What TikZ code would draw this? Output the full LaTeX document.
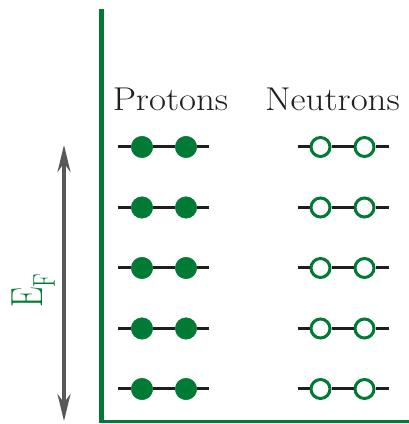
\documentclass[tikz,border=0pt]{standalone}
\usepackage{fontspec}
\usepackage{xcolor}
\usepackage{tikz}
\usetikzlibrary{arrows.meta,positioning}
\definecolor{nucGreen}{RGB}{0,122,52}
\definecolor{nucGray}{RGB}{88,88,88}
\definecolor{nucInk}{RGB}{30,30,30}

\begin{document}
\begin{tikzpicture}[x=1pt,y=1pt,
    head/.style={anchor=base,inner sep=0pt,xscale=1.12,text=nucInk,font=\fontsize{33}{36}\selectfont},
    proton/.style={circle,fill=nucGreen,draw=nucGreen,line width=0.5pt,minimum size=21.5pt,inner sep=0pt},
    neutron/.style={circle,fill=white,draw=nucGreen,line width=3pt,minimum size=19pt,inner sep=0pt},
    bond/.style={draw=nucInk,line width=3pt},
    axis/.style={draw=nucGreen},
    span/.style={{Stealth[length=27pt,width=13pt]}-{Stealth[length=27pt,width=13pt]},draw=nucGray,line width=3.5pt}
  ]
  \useasboundingbox (0,0) rectangle (409,424);
  % axes
  \draw[axis,line width=5pt] (101.5,2.5) -- (101.5,415);
  \draw[axis,line width=3pt] (99,2.5) -- (409,2.5);
  % Fermi energy
  \coordinate (eTop) at (64,279);
  \coordinate (eBot) at (64,3);
  \draw[span] (eBot) -- (eTop);
  \node[rotate=90,xscale=0.72,anchor=base west,text=nucGreen,inner sep=0pt,
    font=\fontsize{45}{48}\selectfont] (eF) at (42,116)
    {E\raisebox{-13pt}{\fontsize{31.5}{33}\selectfont F}};
  % headers
  \node[head] (hP) at (170.5,313) {Protons};
  \node[head] (hN) at (332.5,313) {Neutrons};
  % levels
  \foreach \i/\y in {1/277,2/216.5,3/156,4/95.5,5/35}{
    \coordinate (pl\i) at (118,\y);
    \coordinate (pr\i) at (209,\y);
    \node[proton] (pa\i) at (142,\y) {};
    \node[proton] (pb\i) at (186,\y) {};
    \draw[bond] (pl\i) -- (pa\i) (pa\i) -- (pb\i) (pb\i) -- (pr\i);
    \coordinate (nl\i) at (297.5,\y);
    \coordinate (nr\i) at (388.5,\y);
    \node[neutron] (na\i) at (320.5,\y) {};
    \node[neutron] (nb\i) at (364.5,\y) {};
    \draw[bond] (nl\i) -- (na\i) (na\i) -- (nb\i) (nb\i) -- (nr\i);
  }
\end{tikzpicture}
\end{document}
